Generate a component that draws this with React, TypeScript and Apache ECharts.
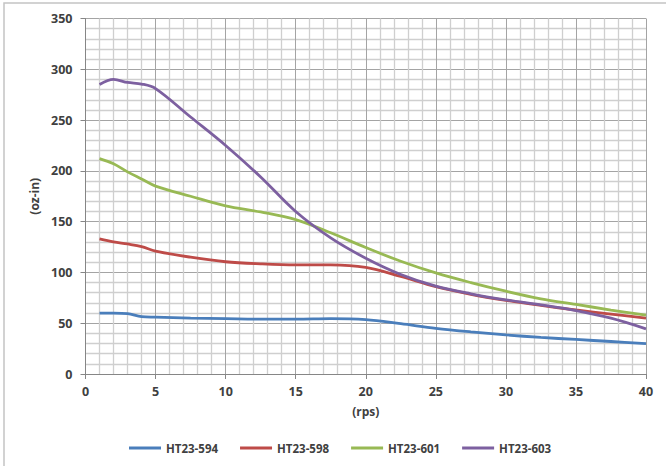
import React, { useEffect, useRef } from "react";
import * as echarts from "echarts";

const rps = [1, 2, 3, 4, 5, 7.5, 10, 12.5, 15, 17.5, 20, 22.5, 25, 27.5, 30, 32.5, 35, 37.5, 40];
const ht594 = [60, 60, 59.5, 56.5, 56, 55, 54.5, 54, 54, 54.5, 53.5, 49.5, 45, 41.5, 38.5, 36, 34, 32, 30];
const ht598 = [133, 130, 128, 125.5, 121, 115, 110.5, 108.5, 107.5, 107.5, 105, 96, 86, 78.5, 72.5, 67.5, 63, 59, 55];
const ht601 = [212, 207, 199, 192, 185, 175, 165.5, 159.5, 152, 139, 124.5, 111, 99.5, 90, 81.5, 74, 68.5, 63, 58];
const ht603 = [285, 290, 287, 285.5, 281, 253, 225, 194, 160, 134, 114, 98, 86.5, 79, 73, 68, 62.5, 55, 44.5];

const seriesNames = ["HT23-594", "HT23-598", "HT23-601", "HT23-603"];
const seriesValues = [ht594, ht598, ht601, ht603];
const colors = ["#4A7EBB", "#BE4B48", "#98B954", "#7D60A0"];

const xTicks = { min: 0, max: 40, interval: 5 };
const yTicks = { min: 0, max: 350, interval: 50 };

const font = "'Open Sans', 'Liberation Sans', sans-serif";
const textColor = "#404040";

export default function App() {
  const ref = useRef<HTMLDivElement>(null);
  useEffect(() => {
    if (!ref.current) return;
    const chart = echarts.init(ref.current, undefined, { renderer: "svg" });
    const axisCommon = {
      axisLine: { show: true, lineStyle: { color: "#868686", width: 1 } },
      axisTick: { show: true, length: 5, lineStyle: { color: "#868686" } },
      splitLine: { show: true, lineStyle: { color: "#a4a4a4", width: 1 } },
      minorTick: { show: false, splitNumber: 5 },
      minorSplitLine: { show: true, lineStyle: { color: "#cfcfcf", width: 1.3 } },
      axisLabel: { color: textColor, fontFamily: font, fontSize: 12.5, fontWeight: "bold" as const },
      nameTextStyle: { color: textColor, fontFamily: font, fontSize: 12, fontWeight: "bold" as const },
    };
    chart.setOption({
      animation: false,
      backgroundColor: "#ffffff",
      grid: { left: 85.5, right: 20, top: 18.5, bottom: 92, containLabel: false },
      xAxis: {
        type: "value",
        ...xTicks,
        ...axisCommon,
        axisLabel: { ...axisCommon.axisLabel, margin: 11 },
        name: "(rps)",
        nameLocation: "middle",
        nameGap: 31,
      },
      yAxis: {
        type: "value",
        ...yTicks,
        ...axisCommon,
        axisLabel: { ...axisCommon.axisLabel, margin: 13 },
        name: "(oz-in)",
        nameLocation: "middle",
        nameGap: 43,
      },
      legend: {
        bottom: 7,
        left: 124,
        icon: "rect",
        itemWidth: 32,
        itemHeight: 3,
        itemGap: 22,
        textStyle: { color: textColor, fontFamily: font, fontSize: 11.5, fontWeight: "bold" },
        data: seriesNames,
      },
      graphic: [
        {
          type: "rect",
          shape: { x: 4, y: 3, width: 700, height: 500 },
          style: { fill: "none", stroke: "#c4c4c4", lineWidth: 1.5 },
          silent: true,
        },
      ],
      series: seriesNames.map((name, i) => ({
        name,
        type: "line",
        data: rps.map((x, j) => [x, seriesValues[i][j]]),
        smooth: 0.35,
        showSymbol: false,
        symbol: "none",
        lineStyle: { color: colors[i], width: 2.8 },
        itemStyle: { color: colors[i] },
      })),
    });
    return () => chart.dispose();
  }, []);
  return <div ref={ref} style={{ position: "fixed", left: 0, top: 0, width: 666, height: 466 }} />;
}
